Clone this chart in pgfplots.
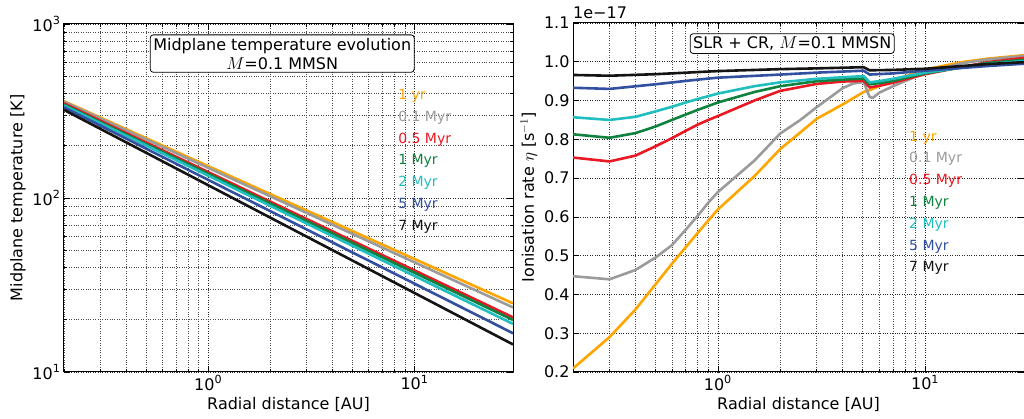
\documentclass[border=0pt]{standalone}
\usepackage{fontspec}
\setmainfont{DejaVu Sans}
\usepackage{pgfplots}
\pgfplotsset{compat=1.18}
\definecolor{cOr}{RGB}{255,165,0}
\definecolor{cGr}{RGB}{155,155,155}
\definecolor{cRe}{RGB}{232,25,35}
\definecolor{cGn}{RGB}{16,130,64}
\definecolor{cCy}{RGB}{32,190,190}
\definecolor{cBl}{RGB}{50,80,160}
\definecolor{cBk}{RGB}{20,20,20}
\tikzset{leg/.style={anchor=west, inner sep=0pt, font=\fontsize{14}{16}\selectfont}}
\begin{document}
\begin{tikzpicture}
\path[use as bounding box] (0pt,0pt) rectangle (1024pt,419pt);
% ---------------- left panel ----------------
\begin{axis}[scale only axis, xmode=log, ymode=log, xmin=0.2, xmax=30,
  grid=both,
  major grid style={dotted, black!85, line width=0.6pt},
  minor grid style={dotted, black!70, line width=0.6pt},
  tick style={black, line width=0.6pt},
  major tick length=6pt, minor tick length=3pt,
  axis line style={line width=1pt},
  label style={font=\fontsize{16}{18}\selectfont},
  tick label style={font=\fontsize{16}{18}\selectfont},
  xticklabel={\pgfmathtruncatemacro\myexp{round(\tick/2.302585093)}10\textsuperscript{\myexp}},
  xlabel={Radial distance [AU]},
  every axis plot/.append style={line width=2.6pt, no marks},
  at={(64pt,47pt)}, anchor=south west, width=449pt, height=348pt,
  ymin=10, ymax=1000,
  yticklabel={\pgfmathtruncatemacro\myexp{round(\tick/2.302585093)}10\textsuperscript{\myexp}},
  ylabel={Midplane temperature [K]}]
\addplot[cOr] coordinates {(0.2,360) (30,24.8)};
\addplot[cGr] coordinates {(0.2,357) (30,23.5)};
\addplot[cRe] coordinates {(0.2,350) (30,20.6)};
\addplot[cGn] coordinates {(0.2,344) (30,19.9)};
\addplot[cCy] coordinates {(0.2,340) (30,18.9)};
\addplot[cBl] coordinates {(0.2,332) (30,16.7)};
\addplot[cBk] coordinates {(0.2,321) (30,14.4)};
\node[draw, rounded corners=3pt, fill=white, align=center, line width=0.8pt,
  font=\fontsize{16}{19}\selectfont, inner sep=3pt] at (rel axis cs:0.486,0.915)
  {Midplane temperature evolution\\$M$=0.1 MMSN};
\node[leg, text=cOr] at (rel axis cs:0.744,0.793) {1 yr};
\node[leg, text=cGr] at (rel axis cs:0.744,0.731) {0.1 Myr};
\node[leg, text=cRe] at (rel axis cs:0.744,0.668) {0.5 Myr};
\node[leg, text=cGn] at (rel axis cs:0.744,0.606) {1 Myr};
\node[leg, text=cCy] at (rel axis cs:0.744,0.543) {2 Myr};
\node[leg, text=cBl] at (rel axis cs:0.744,0.481) {5 Myr};
\node[leg, text=cBk] at (rel axis cs:0.744,0.418) {7 Myr};
\end{axis}
% ---------------- right panel ----------------
\begin{axis}[name=R, scale only axis, xmode=log, xmin=0.2, xmax=30,
  grid=both,
  major grid style={dotted, black!85, line width=0.6pt},
  minor grid style={dotted, black!70, line width=0.6pt},
  tick style={black, line width=0.6pt},
  major tick length=6pt, minor tick length=3pt,
  axis line style={line width=1pt},
  label style={font=\fontsize{16}{18}\selectfont},
  tick label style={font=\fontsize{16}{18}\selectfont},
  xticklabel={\pgfmathtruncatemacro\myexp{round(\tick/2.302585093)}10\textsuperscript{\myexp}},
  xlabel={Radial distance [AU]},
  every axis plot/.append style={line width=2.6pt, no marks},
  at={(573pt,47pt)}, anchor=south west, width=451pt, height=349pt,
  ymin=0.2, ymax=1.1, ytick={0.2,0.3,0.4,0.5,0.6,0.7,0.8,0.9,1.0,1.1},
  yticklabel style={/pgf/number format/fixed, /pgf/number format/fixed zerofill,
    /pgf/number format/precision=1, /pgf/number format/assume math mode=true},
  ylabel={Ionisation rate $\eta$ [s$^{-1}$]}]
\addplot[cOr] coordinates {(0.2,0.209) (0.3,0.290) (0.4,0.361) (0.5,0.426) (0.6,0.479) (0.7,0.522) (0.8,0.559) (0.9,0.591) (1.0,0.619) (1.5,0.705) (2,0.775) (3,0.853) (4,0.890) (5.05,0.922) (5.4,0.927) (6,0.937) (7,0.952) (10,0.980) (15,0.999) (20,1.008) (30,1.017)};
\addplot[cGr] coordinates {(0.2,0.447) (0.3,0.439) (0.4,0.463) (0.5,0.495) (0.6,0.527) (0.7,0.567) (0.8,0.603) (0.9,0.637) (1.0,0.664) (1.5,0.745) (2,0.815) (2.5,0.850) (3,0.883) (4,0.932) (4.5,0.944) (5.05,0.948) (5.4,0.909) (5.6,0.907) (6,0.920) (7,0.937) (10,0.972) (15,0.996) (20,1.006) (30,1.015)};
\addplot[cRe] coordinates {(0.2,0.753) (0.3,0.743) (0.4,0.758) (0.5,0.782) (0.6,0.803) (0.7,0.822) (0.8,0.838) (0.9,0.850) (1.0,0.860) (1.5,0.900) (2,0.925) (3,0.943) (4,0.949) (5.05,0.951) (5.4,0.934) (6,0.938) (7,0.946) (10,0.968) (20,0.999) (30,1.010)};
\addplot[cGn] coordinates {(0.2,0.813) (0.3,0.804) (0.4,0.816) (0.5,0.833) (0.6,0.850) (0.7,0.864) (0.8,0.876) (1.0,0.895) (1.5,0.922) (2,0.937) (3,0.950) (4,0.954) (5.05,0.957) (5.4,0.942) (6,0.945) (7,0.951) (10,0.970) (20,0.997) (30,1.005)};
\addplot[cCy] coordinates {(0.2,0.857) (0.3,0.850) (0.4,0.858) (0.5,0.872) (0.6,0.884) (0.7,0.895) (0.8,0.904) (1.0,0.918) (1.5,0.937) (2,0.947) (3,0.956) (4,0.960) (5.05,0.963) (5.4,0.947) (6,0.950) (7,0.956) (10,0.972) (20,0.994) (30,1.002)};
\addplot[cBl] coordinates {(0.2,0.933) (0.3,0.930) (0.5,0.942) (0.8,0.954) (1.0,0.959) (2,0.967) (3,0.972) (5.05,0.977) (5.4,0.967) (7,0.970) (10,0.977) (20,0.989) (30,0.995)};
\addplot[cBk] coordinates {(0.2,0.966) (0.3,0.964) (0.5,0.968) (1.0,0.976) (2,0.981) (3,0.983) (5.05,0.986) (5.4,0.978) (7,0.979) (10,0.982) (20,0.994) (30,0.999)};
\node[draw, rounded corners=3pt, fill=white, align=center, line width=0.8pt,
  font=\fontsize{16}{19}\selectfont, inner sep=3pt] at (rel axis cs:0.486,0.941)
  {SLR + CR, $M$=0.1 MMSN};
\node[leg, text=cOr] at (rel axis cs:0.745,0.672) {1 yr};
\node[leg, text=cGr] at (rel axis cs:0.745,0.610) {0.1 Myr};
\node[leg, text=cRe] at (rel axis cs:0.745,0.547) {0.5 Myr};
\node[leg, text=cGn] at (rel axis cs:0.745,0.485) {1 Myr};
\node[leg, text=cCy] at (rel axis cs:0.745,0.422) {2 Myr};
\node[leg, text=cBl] at (rel axis cs:0.745,0.360) {5 Myr};
\node[leg, text=cBk] at (rel axis cs:0.745,0.297) {7 Myr};
\end{axis}
\node[anchor=base west, inner sep=0pt, font=\fontsize{16}{18}\selectfont] at ([yshift=4pt]R.north west) {1e−17};
\end{tikzpicture}
\end{document}
